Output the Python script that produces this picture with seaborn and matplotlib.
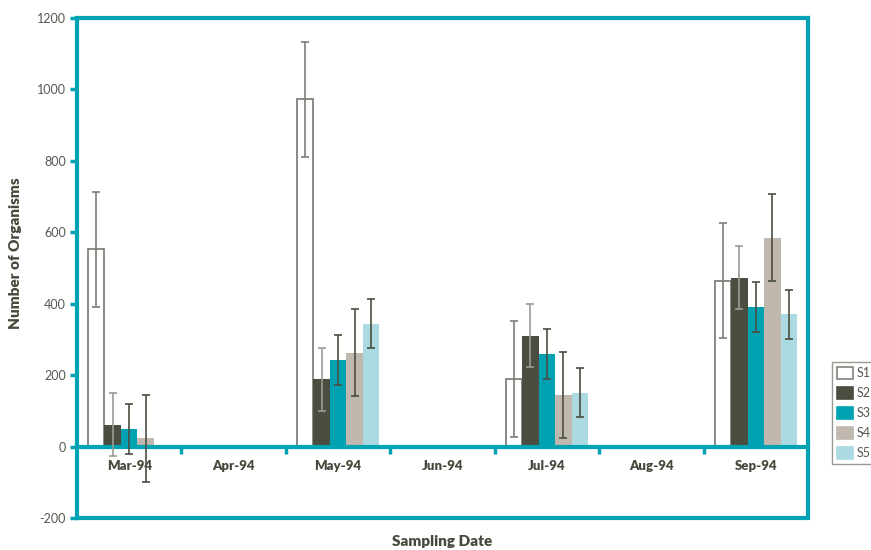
import numpy as np
import pandas as pd
import matplotlib
matplotlib.use('Agg')
import matplotlib.pyplot as plt
from matplotlib.patches import Patch
from matplotlib.ticker import FixedLocator
import seaborn as sns

# chart data
months = ['Mar-94', 'Apr-94', 'May-94', 'Jun-94', 'Jul-94', 'Aug-94', 'Sep-94']
sampled = ['Mar-94', 'May-94', 'Jul-94', 'Sep-94']
sites = ['S1', 'S2', 'S3', 'S4', 'S5']
s1 = [552, 972, 190, 465]
s2 = [61, 188, 311, 473]
s3 = [50, 243, 258, 392]
s4 = [23, 263, 145, 585]
s5 = [np.nan, 344, 151, 370]
sd = [162, 88, 70, 121, 69]

site_colors = ['#ffffff', '#4a4e40', '#00a2b2', '#c0b8ae', '#acdae2']
err_colors = ['#7c7f76', '#9a9c94', '#4a4e40', '#4a4e40', '#4a4e40']
teal = '#00a3b3'
text_col = '#55584f'
dark_text = '#464a3c'

rows = []
for site, vals in zip(sites, [s1, s2, s3, s4, s5]):
    for m, v in zip(sampled, vals):
        if not np.isnan(v):
            rows.append({'month': m, 'site': site, 'count': v})
df = pd.DataFrame(rows)

sns.set_theme(style='white')
plt.rcParams['font.family'] = ['Lato', 'DejaVu Sans']

fig = plt.figure(figsize=(8.71, 5.5), dpi=100)
ax = fig.add_axes([77 / 871, 32 / 550, 731 / 871, 500 / 550])

sns.barplot(data=df, x='month', y='count', hue='site', order=months, hue_order=sites,
            palette=site_colors, width=0.79, saturation=1, errorbar=None,
            legend=False, ax=ax)

# outline for S1, error bars for everything
bar_containers = list(ax.containers)
for ci, cont in enumerate(bar_containers):
    for bar in cont:
        if ci == 0:
            bar.set_edgecolor('#7f8279')
            bar.set_linewidth(1.3)
        else:
            bar.set_linewidth(0)
        h = bar.get_height()
        if np.isnan(h):
            continue
        xc = bar.get_x() + bar.get_width() / 2
        ax.errorbar(xc, h, yerr=sd[ci], fmt='none', ecolor=err_colors[ci],
                    elinewidth=1.2, capsize=3, capthick=1.2, zorder=3)

ax.set_xlim(-0.5, 6.5)
ax.set_ylim(-200, 1200)
ax.set_yticks(np.arange(-200, 1201, 200))
ax.set_yticklabels([str(v) for v in range(-200, 1201, 200)])

# frame
for side in ['left', 'right', 'top', 'bottom']:
    ax.spines[side].set_color(teal)
    ax.spines[side].set_linewidth(3)
    ax.spines[side].set_visible(True)
ax.spines['bottom'].set_position(('data', 0))
ax.axhline(-200, color=teal, lw=3, clip_on=False, zorder=5)

ax.tick_params(axis='y', direction='out', length=5, width=2.5, color=teal,
               labelsize=9, labelcolor=text_col, pad=3, left=True)
ax.xaxis.set_minor_locator(FixedLocator(np.arange(0.5, 6, 1)))
ax.tick_params(axis='x', which='minor', direction='out', length=5, width=2.5,
               color=teal, bottom=True)
ax.tick_params(axis='x', which='major', length=0, pad=10, labelsize=9.5,
               labelcolor=dark_text)
for lbl in ax.get_xticklabels():
    lbl.set_fontweight('heavy')

ax.set_xlabel('Sampling Date', fontsize=11, fontweight='heavy', color=dark_text)
ax.set_ylabel('Number of Organisms', fontsize=11, fontweight='heavy', color=dark_text)
ax.xaxis.set_label_coords(0.5, -0.034)
ax.yaxis.set_label_coords(-0.075, 0.529)
ax.grid(False)

handles = [Patch(facecolor=c, edgecolor='#7f8279' if i == 0 else c, linewidth=1.2)
           for i, c in enumerate(site_colors)]
leg = fig.legend(handles, sites, loc='upper left', bbox_to_anchor=(832 / 871, 1 - 362 / 550),
                 frameon=True, fancybox=False, fontsize=9, handlelength=1.3,
                 handleheight=1.1, labelspacing=0.62, borderpad=0.4, borderaxespad=0,
                 handletextpad=0.3)
leg.get_frame().set_edgecolor('#7f8279')
leg.get_frame().set_linewidth(1)
for t in leg.get_texts():
    t.set_color(text_col)

fig.savefig('out.png', dpi=100)
